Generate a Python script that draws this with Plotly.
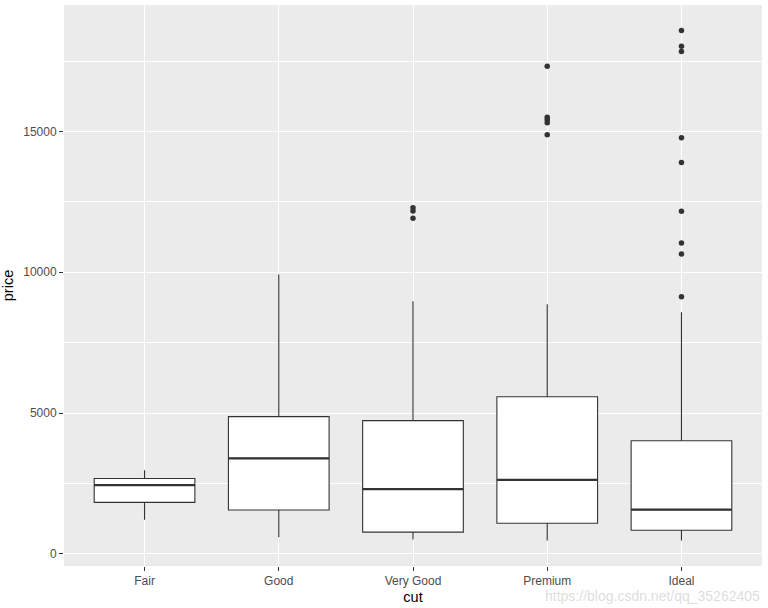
import plotly.graph_objects as go

categories = ["Fair", "Good", "Very Good", "Premium", "Ideal"]
q1 = [1825, 1553, 766, 1083, 836]
median = [2436, 3389, 2295, 2623, 1565]
q3 = [2672, 4871, 4730, 5577, 4012]
lower_fence = [1211, 589, 505, 470, 470]
upper_fence = [2965, 9920, 8966, 8860, 8578]
outliers = {
    "Fair": [],
    "Good": [],
    "Very Good": [12290, 12180, 11920],
    "Premium": [17320, 15507, 15415, 15310, 14885],
    "Ideal": [18590, 18028, 17840, 14780, 13897, 12168, 11038, 10650, 9132],
}
y_ticks = [0, 5000, 10000, 15000]
y_tick_labels = ["0", "5000", "10000", "15000"]

BOX_W = 0.75
DARK = "#333333"
pos = list(range(1, len(categories) + 1))

fig = go.Figure()
for i, c in enumerate(categories):
    fig.add_trace(go.Box(
        x=[pos[i]], q1=[q1[i]], median=[median[i]], q3=[q3[i]],
        lowerfence=[lower_fence[i]], upperfence=[upper_fence[i]],
        boxpoints=False, width=BOX_W, whiskerwidth=0,
        fillcolor="white", line=dict(color=DARK, width=1.1),
        showlegend=False, hoverinfo="skip",
    ))

# thicker median lines (ggplot fatten)
mx, my = [], []
for i in range(len(categories)):
    mx += [pos[i] - BOX_W / 2, pos[i] + BOX_W / 2, None]
    my += [median[i], median[i], None]
fig.add_trace(go.Scatter(x=mx, y=my, mode="lines",
                         line=dict(color=DARK, width=2.2), showlegend=False,
                         hoverinfo="skip"))

ox, oy = [], []
for i, c in enumerate(categories):
    for v in outliers[c]:
        ox.append(pos[i])
        oy.append(v)
fig.add_trace(go.Scatter(x=ox, y=oy, mode="markers",
                         marker=dict(color=DARK, size=5.5, line=dict(width=0)),
                         showlegend=False))

fig.add_annotation(text="https://blog.csdn.net/qq_35262405", xref="paper", yref="paper",
                   x=1.0, y=-0.036, xanchor="right", yanchor="top", showarrow=False,
                   font=dict(family="Liberation Sans, Arial", size=14, color="rgba(215,215,215,0.85)"))

fig.update_layout(
    width=768, height=608,
    margin=dict(l=64, r=6, t=5, b=40),
    paper_bgcolor="white", plot_bgcolor="#EBEBEB",
    font=dict(family="Liberation Sans, Arial, sans-serif", color="#4D4D4D", size=12),
    showlegend=False,
)
fig.update_xaxes(
    range=[0.4, 5.6], tickvals=pos, ticktext=categories,
    showgrid=True, gridcolor="white", gridwidth=1.1, zeroline=False,
    ticks="outside", ticklen=4, tickwidth=1, tickcolor=DARK,
    tickfont=dict(size=12, color="#4D4D4D"),
    title=dict(text="cut", font=dict(size=14.5, color="black"), standoff=4),
    showline=False,
)
fig.update_yaxes(
    range=[-436, 19496], tickvals=y_ticks, ticktext=y_tick_labels,
    showgrid=True, gridcolor="white", gridwidth=1.1, zeroline=False,
    ticks="outside", ticklen=4, tickwidth=1, tickcolor=DARK,
    tickfont=dict(size=12, color="#4D4D4D"),
    minor=dict(tickvals=[2500, 7500, 12500, 17500], showgrid=True, gridcolor="white",
               gridwidth=0.55, ticks=""),
    title=dict(text="price", font=dict(size=14.5, color="black"), standoff=6),
    showline=False,
)

fig.write_html("out.html")
